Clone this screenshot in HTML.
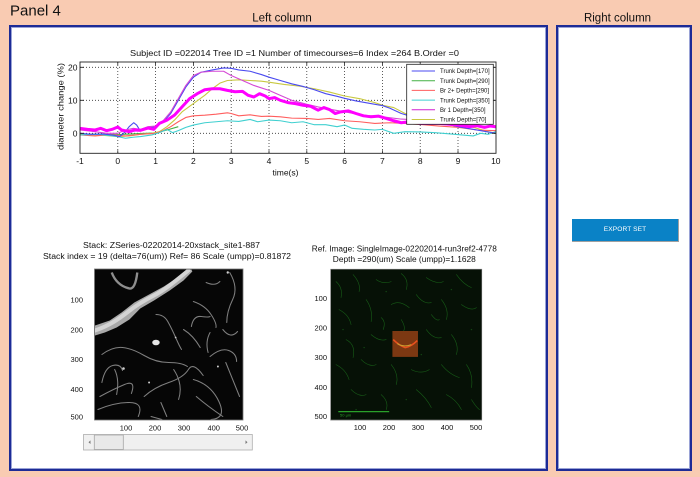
<!DOCTYPE html>
<html><head><meta charset="utf-8">
<style>
html,body{margin:0;padding:0;}
body{width:700px;height:477px;background:#F9CBB2;position:relative;overflow:hidden;font-family:"Liberation Sans",Arial,sans-serif;}
.box{position:absolute;box-sizing:border-box;background:#fff;border:2px solid #1d2b96;box-shadow:inset 0 0 0 1px #9aa3d6;}
#btn{position:absolute;left:572px;top:219px;width:107px;height:23px;box-sizing:border-box;background:#0a82c6;border-right:1px solid #a0a0a0;border-bottom:1px solid #a0a0a0;color:#fff;font-size:6.6px;line-height:22px;text-align:center;letter-spacing:0.1px;}
svg{position:absolute;left:0;top:0;}
</style></head><body>
<div class="box" style="left:9px;top:25px;width:539px;height:446px;"></div>
<div class="box" style="left:556px;top:25px;width:136px;height:446px;"></div>
<div id="btn">EXPORT SET</div>

<svg width="700" height="477" viewBox="0 0 700 477" font-family="Liberation Sans, Arial, sans-serif">
<defs>
<clipPath id="ax"><rect x="80" y="62" width="416" height="91.3"/></clipPath>
</defs>
<text x="10" y="15.5" font-size="15" fill="#111">Panel 4</text>
<text x="282" y="21.5" font-size="11.5" text-anchor="middle" fill="#111">Left column</text>
<text x="617.5" y="21.5" font-size="11.5" text-anchor="middle" fill="#111">Right column</text>

<!-- plot title -->
<text x="130" y="56" font-size="8.5" fill="#111" textLength="329" lengthAdjust="spacingAndGlyphs">Subject ID =022014  Tree ID =1  Number of timecourses=6  Index  =264  B.Order  =0</text>

<!-- grid -->
<g stroke="#333" stroke-width="0.8" stroke-dasharray="1 2" fill="none">
<line x1="117.8" y1="62" x2="117.8" y2="153.3"/>
<line x1="155.6" y1="62" x2="155.6" y2="153.3"/>
<line x1="193.4" y1="62" x2="193.4" y2="153.3"/>
<line x1="231.2" y1="62" x2="231.2" y2="153.3"/>
<line x1="269" y1="62" x2="269" y2="153.3"/>
<line x1="306.8" y1="62" x2="306.8" y2="153.3"/>
<line x1="344.6" y1="62" x2="344.6" y2="153.3"/>
<line x1="382.4" y1="62" x2="382.4" y2="153.3"/>
<line x1="420.2" y1="62" x2="420.2" y2="153.3"/>
<line x1="458" y1="62" x2="458" y2="153.3"/>
<line x1="80" y1="67.3" x2="496" y2="67.3"/>
<line x1="80" y1="100.3" x2="496" y2="100.3"/>
<line x1="80" y1="133.3" x2="496" y2="133.3"/>
</g>

<!-- curves -->
<g clip-path="url(#ax)">
<g transform="translate(117.8,133.3) scale(37.8,-3.3)" fill="none" stroke-linejoin="round">
<polyline vector-effect="non-scaling-stroke" stroke="#44b044" stroke-width="1.1" points="-1,-0.2 -0.5,-0.3 0,-0.4 0.5,-0.1 1,0.1 1.3,1 1.6,2"/>
<polyline vector-effect="non-scaling-stroke" stroke="#c8c840" stroke-width="1.1" points="-1,-0.3 -0.5,-0.5 0,-1 0.3,-0.8 0.6,-0.3 0.9,0 1.1,0.5 1.3,2 1.5,4 1.7,6.5 2,9 2.3,11.5 2.5,13.5 2.7,15.2 2.9,16 3.2,16.2 3.5,16 3.8,15.8 4,15.5 4.4,14.8 4.8,14.3 5.2,13.5 5.6,12.5 6,11.3 6.4,10.5 6.8,9.3 7,8.5 7.3,7.8 7.6,6 8,5 8.5,4 9,3 9.5,1.5 9.8,0.5 10,0"/>
<polyline vector-effect="non-scaling-stroke" stroke="#ff5e5e" stroke-width="1.1" points="-1,-0.5 -0.6,-0.8 -0.2,-0.4 0.2,-0.8 0.6,-0.3 1,0 1.2,0.8 1.4,2 1.6,3.5 1.8,4.8 2,5.3 2.3,5.5 2.6,5.8 2.9,6.2 3,6 3.2,5.3 3.5,5.6 3.8,5.1 4,5.2 4.3,5 4.6,4.6 5,4.5 5.3,4.2 5.6,4.5 6,3.8 6.4,3.5 6.8,3 7.2,3.2 7.6,3 8,2.7 8.5,2.2 9,1.8 9.5,1 10,0.8"/>
<polyline vector-effect="non-scaling-stroke" stroke="#40d0d0" stroke-width="1.1" points="-1,-0.5 -0.5,-0.3 0,-1 0.2,-1.5 0.4,-1.2 0.6,-1 0.9,-0.5 1.1,0.2 1.3,1.2 1.45,0.2 1.6,0.8 1.8,1.8 2,2.5 2.3,3.2 2.6,3.5 2.9,3.8 3.2,3.6 3.5,4.2 3.7,3.5 4,4 4.3,3.8 4.6,3.2 4.9,3.5 5.2,2.6 5.5,2.6 5.8,2 6,2.5 6.2,1.5 6.5,1.2 6.8,1 7,1.2 7.3,0 7.6,0.5 8,0.4 8.4,0.2 8.8,-0.2 9.1,-0.5 9.4,-0.8 9.6,0 9.8,-0.3 10,0.5"/>
<polyline vector-effect="non-scaling-stroke" stroke="#4a4af0" stroke-width="1.1" points="-1,0 -0.7,-0.3 -0.4,-0.2 -0.1,-0.6 0.05,-1 0.2,0.5 0.3,2 0.42,3.2 0.5,2.5 0.58,1 0.7,1.2 0.85,1.8 1,2 1.2,3.5 1.4,6 1.6,10 1.8,14 2,17 2.2,18.5 2.5,19.2 2.8,19.8 3,19.7 3.2,19.2 3.5,18.8 3.8,17.8 4,17 4.3,16 4.6,15 4.9,14.2 5.2,13.2 5.5,12 5.8,11.2 6,10.6 6.3,9.8 6.6,9.2 7,8.4 7.2,7.6 7.5,6 7.8,5 8.2,4 8.6,3 9,2 9.4,1.2 9.7,0.6 10,0"/>
<polyline vector-effect="non-scaling-stroke" stroke="#d548d5" stroke-width="1.1" points="-1,1 -0.6,0.5 -0.3,0 0,0 0.2,1 0.4,1.5 0.6,1.2 0.8,2 1,2.2 1.2,3.8 1.4,6.5 1.6,10.5 1.8,14.5 2,17.5 2.2,18.5 2.5,18.8 2.8,18.8 3,17.5 3.3,16 3.6,14.5 4,13 4.3,11.5 4.6,10 5,8.8 5.3,8 5.6,7.3 6,6.5 6.5,5.5 7,5 7.5,4.3 8,4 8.5,3.5 9,3 9.5,2.3 10,2"/>
<polyline vector-effect="non-scaling-stroke" stroke="#ff00ff" stroke-width="3" points="-1,1.5 -0.8,1.2 -0.6,1 -0.45,1.5 -0.3,0.8 -0.15,1.2 0,1.9 0.1,1 0.3,0.5 0.45,1 0.6,0.9 0.8,1.6 0.95,1.2 1.1,3 1.3,4 1.5,5.5 1.7,8 1.9,10.5 2.1,12 2.3,13.2 2.5,13.5 2.7,13.5 2.9,13 3.1,12.6 3.3,12.7 3.45,11.5 3.6,11 3.75,12 3.9,11.3 4,10.5 4.15,10.8 4.3,10 4.5,9.3 4.7,9 4.9,8.5 5.1,8.2 5.3,7 5.45,7.8 5.6,7.2 5.75,6 5.9,6.5 6.1,6.8 6.3,6 6.5,5.3 6.7,5 6.9,5.2 7.1,4.5 7.3,3.8 7.5,3.2 7.7,3.5 8,3 8.5,3 9,2.5 9.3,2 9.5,2.3 9.7,1.8 9.85,2.2 10,2"/>
</g>
</g>

<!-- axes box & ticks -->
<rect x="80" y="62" width="416" height="91.3" fill="none" stroke="#222" stroke-width="0.9"/>
<g stroke="#222" stroke-width="0.8">
<path d="M117.8,153.3v-3M155.6,153.3v-3M193.4,153.3v-3M231.2,153.3v-3M269,153.3v-3M306.8,153.3v-3M344.6,153.3v-3M382.4,153.3v-3M420.2,153.3v-3M458,153.3v-3"/>
<path d="M117.8,62v3M155.6,62v3M193.4,62v3M231.2,62v3M269,62v3M306.8,62v3M344.6,62v3M382.4,62v3M420.2,62v3M458,62v3"/>
<path d="M80,67.3h4M80,100.3h4M80,133.3h4M496,67.3h-4M496,100.3h-4M496,133.3h-4"/>
</g>

<!-- tick labels -->
<g font-size="8.5" fill="#111" text-anchor="middle">
<text x="80" y="164">-1</text><text x="117.8" y="164">0</text><text x="155.6" y="164">1</text>
<text x="193.4" y="164">2</text><text x="231.2" y="164">3</text><text x="269" y="164">4</text>
<text x="306.8" y="164">5</text><text x="344.6" y="164">6</text><text x="382.4" y="164">7</text>
<text x="420.2" y="164">8</text><text x="458" y="164">9</text><text x="495.8" y="164">10</text>
<text x="285.5" y="175.5">time(s)</text>
</g>
<g font-size="8.5" fill="#111" text-anchor="end">
<text x="77.5" y="70.5">20</text><text x="77.5" y="103.5">10</text><text x="77.5" y="136.5">0</text>
</g>
<text transform="translate(63.5,106.5) rotate(-90)" text-anchor="middle" font-size="8.5" fill="#111" textLength="87" lengthAdjust="spacingAndGlyphs">diameter change (%)</text>

<!-- legend -->
<rect x="406.7" y="64.3" width="86.6" height="60" fill="#fff" stroke="#222" stroke-width="0.8"/>
<g stroke-width="1">
<line x1="411.7" y1="71" x2="435" y2="71" stroke="#4a4af0"/>
<line x1="411.7" y1="80.7" x2="435" y2="80.7" stroke="#44b044"/>
<line x1="411.7" y1="90.4" x2="435" y2="90.4" stroke="#ff5e5e"/>
<line x1="411.7" y1="100.1" x2="435" y2="100.1" stroke="#40d0d0"/>
<line x1="411.7" y1="109.8" x2="435" y2="109.8" stroke="#d020d0"/>
<line x1="411.7" y1="119.5" x2="435" y2="119.5" stroke="#c8c840"/>
</g>
<g font-size="6" fill="#111">
<text x="440" y="73.2">Trunk Depth=[170]</text>
<text x="440" y="82.9">Trunk Depth=[290]</text>
<text x="440" y="92.6">Br 2+ Depth=[290]</text>
<text x="440" y="102.3">Trunk Depth=[350]</text>
<text x="440" y="112">Br 1 Depth=[350]</text>
<text x="440" y="121.7">Trunk Depth=[70]</text>
</g>

<!-- stack image titles -->
<text x="171.5" y="248" font-size="8" fill="#111" text-anchor="middle" textLength="177" lengthAdjust="spacingAndGlyphs">Stack: ZSeries-02202014-20xstack_site1-887</text>
<text x="167" y="258.8" font-size="8" fill="#111" text-anchor="middle" textLength="248" lengthAdjust="spacingAndGlyphs">Stack index = 19  (delta=76(um))   Ref= 86  Scale (umpp)=0.81872</text>

<!-- stack image -->
<rect x="94.5" y="269" width="148.5" height="151" fill="#050505" stroke="#777" stroke-width="0.8"/>
<svg x="95" y="269.5" width="147.5" height="150" viewBox="0 0 150 150" preserveAspectRatio="none">
<rect width="150" height="150" fill="#060606"/>
<polygon points="0,56 15,51 27,43 40,33 55,25 70,17 84,8 92,1 98,0 99,2 90,11 76,21 60,31 46,39 35,50 22,58 10,63 0,66" fill="#a9a9a9"/>
<path d="M0,61 C15,56 25,49 34,42 S50,31 60,26 S80,13 95,1" stroke="#d4d4d4" stroke-width="4" fill="none" stroke-linecap="round"/>
<path d="M17,3 Q22,16 35,19 Q41,20 43,3" stroke="#8e8e8e" stroke-width="2.4" fill="none"/>
<ellipse cx="62" cy="73" rx="3.8" ry="2.8" fill="#e6e6e6"/>
<g fill="none" stroke="#808080" stroke-width="1.05" stroke-linecap="round">
<path d="M62,45 Q70,45 74,52 T82,68 T88,80"/>
<path d="M100,32 Q112,36 118,45 T123,58"/>
<path d="M98,57 Q100,46 108,47 T117,47"/>
<path d="M117,63 Q112,72 115,83"/>
<path d="M7,85 Q18,77 28,78 T50,86 T75,93 T94,97"/>
<path d="M137,3 Q146,18 140,30 T134,53"/>
<path d="M117,87 Q128,78 136,81 T144,92"/>
<path d="M7,113 Q10,98 18,96 T28,101"/>
<path d="M5,127 Q18,120 30,115 T37,124"/>
<path d="M50,127 Q60,118 75,113 T95,100 T110,106"/>
<path d="M3,140 Q20,133 35,133 T44,147"/>
<path d="M100,110 Q118,115 126,132 T118,150"/>
<path d="M67,133 L73,147"/>
<path d="M103,127 Q115,137 130,147"/>
<path d="M57,147 L68,150"/>
<path d="M113,13 Q122,17 127,12"/>
<path d="M133,93 Q140,110 147,127"/>
<path d="M90,60 Q100,66 107,78"/>
<path d="M130,60 Q138,70 145,62"/>
<path d="M20,100 Q25,110 22,125"/>
<path d="M80,100 Q90,115 85,130"/>
</g>
<g fill="#cfcfcf"><circle cx="29" cy="99" r="1.3"/><circle cx="55" cy="113" r="1"/><circle cx="125" cy="97" r="1"/><circle cx="135" cy="3" r="1.2"/><circle cx="82" cy="68" r="0.9"/></g>
</svg>
<g font-size="7.5" fill="#111" text-anchor="end">
<text x="83" y="302.5">100</text><text x="83" y="332.5">200</text><text x="83" y="362.2">300</text><text x="83" y="392.2">400</text><text x="83" y="419.5">500</text>
</g>
<g font-size="7.5" fill="#111" text-anchor="middle">
<text x="126" y="430.5">100</text><text x="155" y="430.5">200</text><text x="184" y="430.5">300</text><text x="213.7" y="430.5">400</text><text x="242" y="430.5">500</text>
</g>

<!-- scrollbar -->
<rect x="83.5" y="434.5" width="168.8" height="15.5" fill="#f0f0f0" stroke="#adadad" stroke-width="0.8"/>
<rect x="94.3" y="435" width="29" height="14.5" fill="#e9e9e9" stroke="#a6a6a6" stroke-width="0.8"/>
<path d="M88.5,442.2 l2,-1.8 v3.6z" fill="#777"/>
<path d="M247.5,442.2 l-2,-1.8 v3.6z" fill="#777"/>

<!-- ref image titles -->
<text x="404.3" y="251.5" font-size="8" fill="#111" text-anchor="middle" textLength="185" lengthAdjust="spacingAndGlyphs">Ref. Image:   SingleImage-02202014-run3ref2-4778</text>
<text x="404.3" y="262" font-size="8" fill="#111" text-anchor="middle" textLength="143" lengthAdjust="spacingAndGlyphs">Depth =290(um) Scale (umpp)=1.1628</text>

<!-- ref image -->
<rect x="330.7" y="269.3" width="151" height="150.7" fill="#071207" stroke="#777" stroke-width="0.8"/>
<svg x="331" y="269.6" width="150.5" height="150" viewBox="0 0 150 150" preserveAspectRatio="none">
<rect width="150" height="150" fill="#061106"/>
<g fill="none" stroke="#1b6a1b" stroke-width="0.6" stroke-linecap="round" opacity="0.85">
<path d="M5,12 Q12,18 10,28"/><path d="M22,5 Q30,14 28,22"/><path d="M45,10 Q52,15 60,12"/>
<path d="M70,4 Q78,10 75,20"/><path d="M95,8 Q105,15 112,12"/><path d="M125,5 Q132,15 140,18"/>
<path d="M8,40 Q18,45 20,55"/><path d="M35,30 Q42,40 40,52"/><path d="M60,35 Q68,30 78,38"/>
<path d="M85,25 Q92,35 100,33"/><path d="M110,30 Q118,40 115,50"/><path d="M130,35 Q140,42 145,38"/>
<path d="M15,70 Q25,75 22,88"/><path d="M40,65 Q48,72 55,70"/><path d="M95,60 Q102,70 110,68"/>
<path d="M120,65 Q128,75 125,85"/><path d="M5,95 Q15,100 18,110"/><path d="M30,90 Q38,98 45,95"/>
<path d="M60,95 Q68,105 65,115"/><path d="M80,100 Q90,105 98,100"/><path d="M110,95 Q118,105 128,108"/>
<path d="M135,95 Q142,105 140,118"/><path d="M20,120 Q28,128 35,125"/><path d="M50,125 Q58,132 55,140"/>
<path d="M85,120 Q95,128 100,138"/><path d="M115,125 Q125,130 130,140"/><path d="M140,130 Q145,138 148,140"/>
<path d="M70,50 Q75,58 72,62"/><path d="M50,48 Q55,52 52,60"/><path d="M100,45 Q105,52 108,50"/>
</g>
<g fill="#1a5a1a" opacity="0.7">
<circle cx="12" cy="60" r="0.7"/><circle cx="33" cy="78" r="0.7"/><circle cx="90" cy="85" r="0.7"/><circle cx="140" cy="60" r="0.7"/>
<circle cx="75" cy="130" r="0.7"/><circle cx="25" cy="140" r="0.7"/><circle cx="120" cy="20" r="0.7"/><circle cx="55" cy="22" r="0.7"/>
</g>
<rect x="61.2" y="61.4" width="25.5" height="25.9" fill="#7c3812"/>
<path d="M62,70 Q68,76 74,78 Q80,77 86,71" stroke="#e8501e" stroke-width="1.6" fill="none"/>
<path d="M66,74 Q72,78 80,75" stroke="#c8a030" stroke-width="1" fill="none"/>
<line x1="7.3" y1="142" x2="58" y2="142" stroke="#2aa02a" stroke-width="1.3"/>
<text x="9" y="147" font-size="4" fill="#2aa02a">50 µm</text>
</svg>
<g font-size="7.5" fill="#111" text-anchor="end">
<text x="327" y="300.8">100</text><text x="327" y="330.5">200</text><text x="327" y="360">300</text><text x="327" y="390">400</text><text x="327" y="418.8">500</text>
</g>
<g font-size="7.5" fill="#111" text-anchor="middle">
<text x="360" y="430">100</text><text x="389" y="430">200</text><text x="418" y="430">300</text><text x="447" y="430">400</text><text x="476" y="430">500</text>
</g>
</svg>
</body></html>
